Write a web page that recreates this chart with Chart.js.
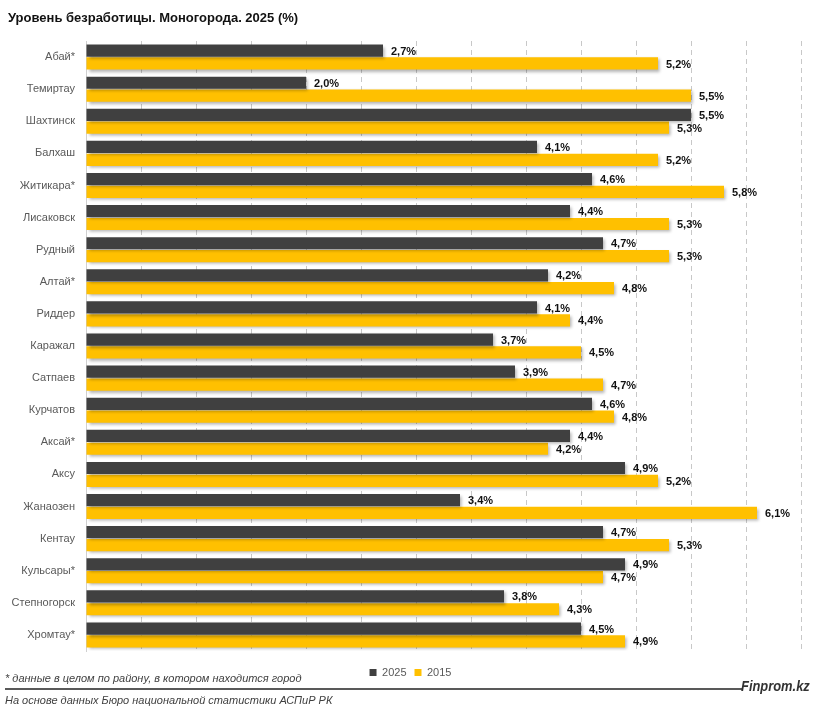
<!DOCTYPE html>
<html>
<head>
<meta charset="utf-8">
<script src="https://cdn.jsdelivr.net/npm/chart.js@4"></script>
<style>
  html, body { margin: 0; padding: 0; background: #fff; }
  body { width: 815px; height: 713px; position: relative; overflow: hidden; font-family: 'Liberation Sans', Arial, sans-serif; }
  #wrap { position: absolute; left: 0; top: 0; width: 815px; height: 713px; }
  .title { position: absolute; left: 8px; top: 10px; font-weight: bold; font-size: 13px; color: #111; }
  .narrow { position: absolute; font-style: italic; font-size: 11px; color: #404040; white-space: nowrap; }
  .note { left: 5px; top: 672px; }
  .src { left: 5px; top: 694px; }
  .rule { position: absolute; left: 5px; top: 688px; width: 737px; height: 2px; background: #595959; }
  .brand { position: absolute; left: 741px; top: 677px; font-style: italic; font-weight: bold; font-size: 15px; color: #333; transform: scaleX(0.86); transform-origin: 0 0; white-space: nowrap; }
</style>
</head>
<body>
<div id="wrap"><canvas id="chart"></canvas></div>
<div class="title">Уровень безработицы. Моногорода. 2025 (%)</div>
<div class="narrow note">* данные в целом по району, в котором находится город</div>
<div class="rule"></div>
<div class="brand">Finprom.kz</div>
<div class="narrow src">На основе данных Бюро национальной статистики АСПиР РК</div>
<script>
// categories and values
const cities = ['Абай*', 'Темиртау', 'Шахтинск', 'Балхаш', 'Житикара*', 'Лисаковск', 'Рудный', 'Алтай*', 'Риддер', 'Каражал',
  'Сатпаев', 'Курчатов', 'Аксай*', 'Аксу', 'Жанаозен', 'Кентау', 'Кульсары*', 'Степногорск', 'Хромтау*'];
const rate2025 = [2.7, 2.0, 5.5, 4.1, 4.6, 4.4, 4.7, 4.2, 4.1, 3.7, 3.9, 4.6, 4.4, 4.9, 3.4, 4.7, 4.9, 3.8, 4.5];
const rate2015 = [5.2, 5.5, 5.3, 5.2, 5.8, 5.3, 5.3, 4.8, 4.4, 4.5, 4.7, 4.8, 4.2, 5.2, 6.1, 5.3, 4.7, 4.3, 4.9];

const labelFont = "'Liberation Sans', Arial, sans-serif";

// soft shadow under the bars, like the original
const barShadow = {
  id: 'barShadow',
  beforeDatasetsDraw(chart) {
    const c = chart.ctx;
    c.save();
    c.shadowColor = 'rgba(0,0,0,0.3)';
    c.shadowBlur = 3;
    c.shadowOffsetX = 2;
    c.shadowOffsetY = 2;
  },
  afterDatasetsDraw(chart) {
    chart.ctx.restore();
  }
};

// value labels right of each bar
const valueLabels = {
  id: 'valueLabels',
  afterDatasetsDraw(chart) {
    const c = chart.ctx;
    c.save();
    c.font = 'bold 11px ' + labelFont;
    c.fillStyle = '#111';
    c.textBaseline = 'middle';
    chart.data.datasets.forEach((ds, i) => {
      chart.getDatasetMeta(i).data.forEach((bar, j) => {
        const txt = ds.data[j].toFixed(1).replace('.', ',') + '%';
        c.fillText(txt, bar.x + 8, bar.y + 1);
      });
    });
    c.restore();
  }
};

// legend sits a little right of centre in the original
const legendShift = {
  id: 'legendShift',
  afterLayout(chart) {
    chart.legend.left += 10;
    chart.legend.right += 10;
  }
};

new Chart(document.getElementById('chart').getContext('2d'), {
  type: 'bar',
  data: {
    labels: cities,
    datasets: [
      { label: '2025', data: rate2025, backgroundColor: '#404040' },
      { label: '2015', data: rate2015, backgroundColor: '#FFC000' }
    ]
  },
  options: {
    indexAxis: 'y',
    responsive: true,
    maintainAspectRatio: false,
    animation: false,
    datasets: { bar: { categoryPercentage: 0.8, barPercentage: 0.95 } },
    layout: { padding: { top: 41, right: 14, bottom: 25, left: 0 } },
    scales: {
      x: {
        min: 0, max: 6.5,
        afterFit(s) { s.height = 8; },
        ticks: { display: false, stepSize: 0.5 },
        grid: { color: '#c8c8c8', drawTicks: false },
        border: { display: false, dash: [5, 4] }
      },
      y: {
        afterFit(s) { s.width = 86; },
        ticks: { color: '#595959', font: { family: labelFont, size: 11 }, padding: 11 },
        grid: { display: false, drawTicks: false },
        border: { display: true, color: '#d0d0d0' }
      }
    },
    plugins: {
      legend: {
        position: 'bottom',
        labels: { boxWidth: 7, boxHeight: 7, padding: 8, color: '#595959', font: { family: labelFont, size: 11 } }
      },
      tooltip: { enabled: false }
    }
  },
  plugins: [barShadow, valueLabels, legendShift]
});
</script>
</body>
</html>
